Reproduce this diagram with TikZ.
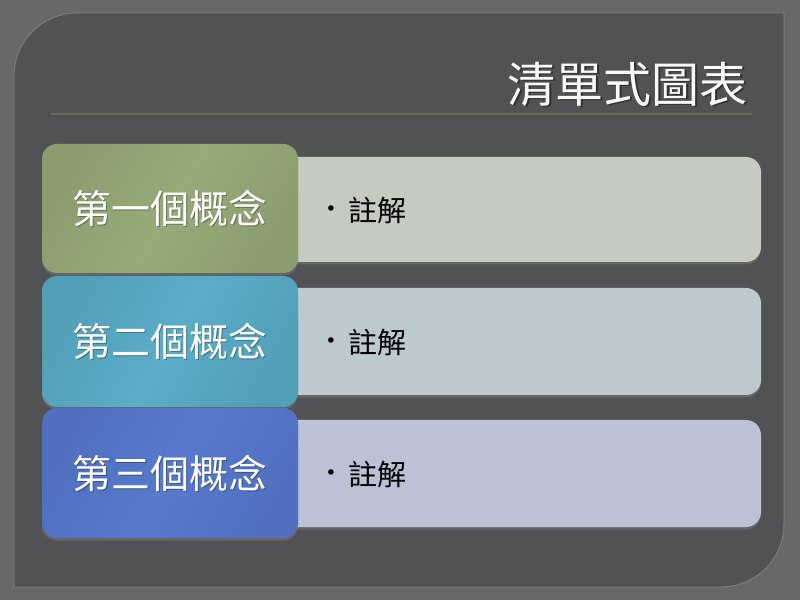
\documentclass[tikz,border=0pt]{standalone}
\usepackage{fontspec}
\newfontfamily\cjk{Noto Sans CJK TC}
\newfontfamily\dejavu{DejaVu Sans}
\usetikzlibrary{shadows}
\definecolor{outerbg}{HTML}{686868}
\definecolor{panel}{HTML}{525254}
\definecolor{panelrim}{HTML}{7C7C7C}
\definecolor{gA}{HTML}{8B9D6F}
\definecolor{gB}{HTML}{97AB79}
\definecolor{tA}{HTML}{529FB8}
\definecolor{tB}{HTML}{5BADC8}
\definecolor{bA}{HTML}{5070BF}
\definecolor{bB}{HTML}{577ACD}
\definecolor{nA}{HTML}{C5CBC0}
\definecolor{nB}{HTML}{BCCAD0}
\definecolor{nC}{HTML}{BCC1D6}
\definecolor{ruleC}{HTML}{6B6C5A}
\tikzset{
  concept/.style={rounded corners=15pt, drop shadow={opacity=0.45, shadow xshift=0pt, shadow yshift=-2.5pt}},
  notebox/.style={rounded corners=15pt, drop shadow={opacity=0.45, shadow xshift=0pt, shadow yshift=-2.5pt}},
  concepttext/.style={text=white, font=\cjk\fontsize{39}{39}\selectfont, inner sep=0pt},
  notetext/.style={text=black, font=\cjk\fontsize{29}{29}\selectfont, inner sep=0pt, anchor=west},
  bullettext/.style={text=black, font=\dejavu\fontsize{19}{19}\selectfont, inner sep=0pt},
}
\begin{document}
\begin{tikzpicture}[x=1pt,y=1pt]
\useasboundingbox (0,0) rectangle (800,600);
\fill[outerbg] (0,0) rectangle (800,600);
% panel
\fill[panel, draw=panelrim, line width=1pt] (14,13) -- (14,524) arc[start angle=180,end angle=90,radius=63] -- (784,587) -- (784,76) arc[start angle=0,end angle=-90,radius=63] -- cycle;
% title rule
\draw[black!70, opacity=0.5, line width=2pt] (51,483.5) -- (752,483.5);
\draw[ruleC, line width=2pt] (51,486) -- (752,486);
% title
\node[text=black, opacity=0.4, font=\cjk\fontsize{48}{48}\selectfont, inner sep=0pt, anchor=east] (titleshadow) at (749.5,514.5) {清單式圖表};
\node[text=white!95!gray, font=\cjk\fontsize{48}{48}\selectfont, inner sep=0pt, anchor=east] (title) at (748,516) {清單式圖表};
% note boxes
\path[notebox, fill=nA] (270,338) rectangle (761,443);
\path[notebox, fill=nB] (270,205) rectangle (761,312);
\path[notebox, fill=nC] (270,73) rectangle (761,180);
% concept boxes
\path[concept, left color=gA, right color=gA, middle color=gB, shading angle=60] (42,327) rectangle (298,456);
\path[concept, left color=tA, right color=tA, middle color=tB, shading angle=60] (42,193) rectangle (298,324);
\path[concept, left color=bA, right color=bA, middle color=bB, shading angle=60] (42,62) rectangle (298,192);
% concept texts
\node[concepttext, text=black, opacity=0.3] at (171,390.8) {第一個概念};
\node[concepttext] (c1) at (170,392) {第一個概念};
\node[concepttext, text=black, opacity=0.3] at (171,257.3) {第二個概念};
\node[concepttext] (c2) at (170,258.5) {第二個概念};
\node[concepttext, text=black, opacity=0.3] at (171,125.8) {第三個概念};
\node[concepttext] (c3) at (170,127) {第三個概念};
% note texts
\node[bullettext] (b1) at (331,389) {•};
\node[notetext] (n1) at (348,390) {註解};
\node[bullettext] (b2) at (331,257) {•};
\node[notetext] (n2) at (348,258) {註解};
\node[bullettext] (b3) at (331,125) {•};
\node[notetext] (n3) at (348,126) {註解};
\end{tikzpicture}
\end{document}
